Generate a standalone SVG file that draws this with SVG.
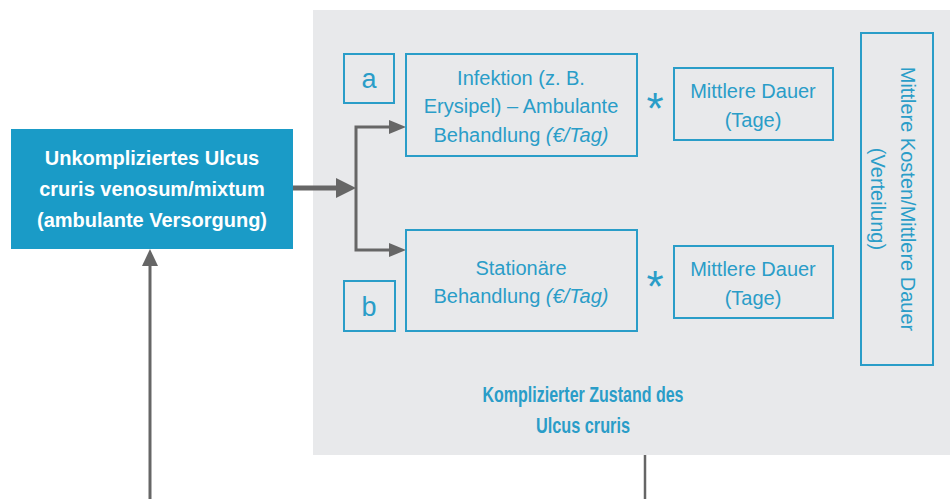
<svg xmlns="http://www.w3.org/2000/svg" width="950" height="499" viewBox="0 0 950 499">
<style>
.t{font-family:"Liberation Sans",Arial,sans-serif;font-size:20px;fill:#2a9dc8;text-anchor:middle}
.b{font-weight:bold}
.w{fill:#ffffff}
.bx{fill:none;stroke:#2a9dc8;stroke-width:2}
.ln{fill:none;stroke:#666666;stroke-width:3}
.ah{fill:#666666}
.ab{font-size:27px}
.st{font-size:44px}
.lb{font-size:21.5px}
</style>
<rect x="313" y="10" width="637" height="445" fill="#e8e9eb"/>
<g id="connectors">
<line class="ln" x1="293" y1="188" x2="340" y2="188" style="stroke-width:5"/>
<polygon class="ah" points="336,178 356,188 336,198"/>
<polyline class="ln" points="391,127 356,127 356,250 391,250"/>
<polygon class="ah" points="389,120 406,127 389,134"/>
<polygon class="ah" points="389,243 406,250 389,257"/>
<line class="ln" x1="150" y1="499" x2="150" y2="264"/>
<polygon class="ah" points="142,266 150,249 158,266"/>
<line class="ln" x1="645" y1="455" x2="645" y2="499" style="stroke-width:2.5"/>
</g>
<g id="uncomplicated">
<rect x="11" y="129" width="282" height="120" fill="#1a9bc7"/>
<text class="t b w" x="152" y="165">Unkompliziertes Ulcus</text>
<text class="t b w" x="152" y="196">cruris venosum/mixtum</text>
<text class="t b w" x="152" y="227">(ambulante Versorgung)</text>
</g>
<g id="label-a">
<rect class="bx" x="344" y="54" width="50" height="49"/>
<text class="t ab" x="369" y="88">a</text>
</g>
<g id="infektion">
<rect class="bx" x="406" y="54" width="231" height="102"/>
<text class="t" x="521" y="85">Infektion (z. B.</text>
<text class="t" x="521" y="113">Erysipel) – Ambulante</text>
<text class="t" x="521" y="142">Behandlung <tspan font-style="italic">(€/Tag)</tspan></text>
</g>
<g id="star1"><text class="t st" x="655" y="124">*</text></g>
<g id="dauer1">
<rect class="bx" x="674" y="68" width="159" height="72"/>
<text class="t" x="753" y="98">Mittlere Dauer</text>
<text class="t" x="753" y="127">(Tage)</text>
</g>
<g id="label-b">
<rect class="bx" x="344" y="281" width="51" height="50"/>
<text class="t ab" x="369" y="316">b</text>
</g>
<g id="stationaer">
<rect class="bx" x="406" y="230" width="231" height="101"/>
<text class="t" x="521" y="275">Stationäre</text>
<text class="t" x="521" y="303">Behandlung <tspan font-style="italic">(€/Tag)</tspan></text>
</g>
<g id="star2"><text class="t st" x="655" y="302">*</text></g>
<g id="dauer2">
<rect class="bx" x="674" y="246" width="159" height="72"/>
<text class="t" x="753" y="276">Mittlere Dauer</text>
<text class="t" x="753" y="305">(Tage)</text>
</g>
<g id="kosten">
<rect class="bx" x="861" y="33" width="72" height="332"/>
<text class="t" transform="translate(901,199) rotate(90)">Mittlere Kosten/Mittlere Dauer</text>
<text class="t" transform="translate(871,199) rotate(90)">(Verteilung)</text>
</g>
<g id="complicated-label">
<text class="t b lb" x="583" y="402" textLength="201" lengthAdjust="spacingAndGlyphs">Komplizierter Zustand des</text>
<text class="t b lb" x="583" y="433" textLength="94" lengthAdjust="spacingAndGlyphs">Ulcus cruris</text>
</g>
</svg>
